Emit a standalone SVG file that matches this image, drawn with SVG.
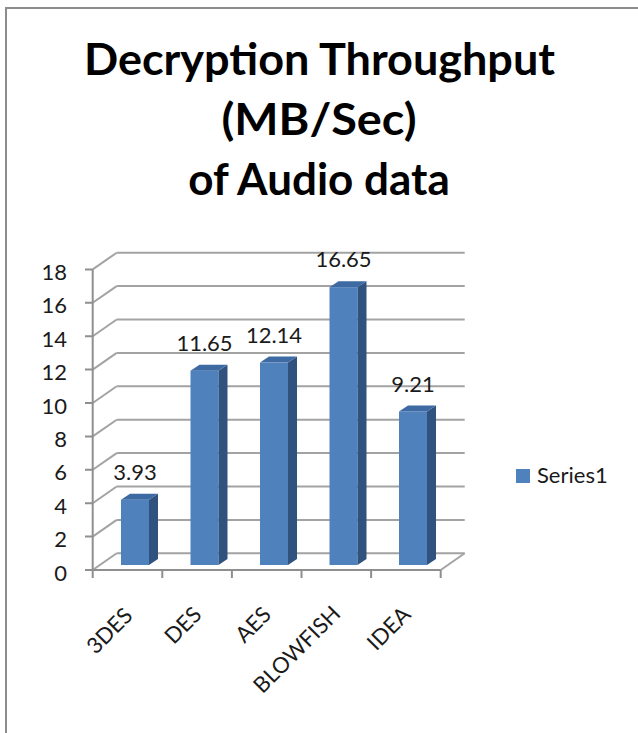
<svg xmlns="http://www.w3.org/2000/svg" width="638" height="733" viewBox="0 0 638 733">
<style>
.grid{stroke:#a3a3a3;stroke-width:2;fill:none}
.axis{stroke:#8f8f8f;stroke-width:2;fill:none}
.front{fill:#4f81bd}
.side{fill:#30527f}
.top{fill:#3d6aa2}
.title{font-family:Lato,"Liberation Sans",sans-serif;font-weight:bold;font-size:44px;fill:#000;text-anchor:middle}
.lbl{font-family:Lato,"Liberation Sans",sans-serif;font-size:22px;fill:#1a1a1a}
.tick{text-anchor:end}
.mid{text-anchor:middle}
</style>
<rect x="0" y="0" width="638" height="733" fill="#fff"/>
<rect x="6" y="8" width="640" height="740" fill="none" stroke="#8c8c8c" stroke-width="2"/>
<g id="title">
<text class="title" x="319.5" y="75" textLength="471" lengthAdjust="spacingAndGlyphs">Decryption Throughput</text>
<text class="title" x="319" y="135" textLength="195" lengthAdjust="spacingAndGlyphs">(MB/Sec)</text>
<text class="title" x="319" y="195">of Audio data</text>
</g>
<g id="walls">
<path class="grid" d="M116.7 553.3H464.7M116.7 519.9H464.7M116.7 486.5H464.7M116.7 453.1H464.7M116.7 419.7H464.7M116.7 386.3H464.7M116.7 352.9H464.7M116.7 319.5H464.7M116.7 286.1H464.7M116.7 252.7H464.7"/>
<path class="grid" d="M92.7 570L116.7 553.3M92.7 536.6L116.7 519.9M92.7 503.2L116.7 486.5M92.7 469.8L116.7 453.1M92.7 436.4L116.7 419.7M92.7 403L116.7 386.3M92.7 369.6L116.7 352.9M92.7 336.2L116.7 319.5M92.7 302.8L116.7 286.1M92.7 269.4L116.7 252.7M440.7 570L464.7 553.3"/>
</g>
<g id="axes">
<path class="axis" d="M92.7 269.4V570H440.7"/>
<path class="axis" d="M85 570H92.7M85 536.6H92.7M85 503.2H92.7M85 469.8H92.7M85 436.4H92.7M85 403H92.7M85 369.6H92.7M85 336.2H92.7M85 302.8H92.7M85 269.4H92.7"/>
<path class="axis" d="M92.7 570V578M162.3 570V578M231.9 570V578M301.5 570V578M371.1 570V578M440.7 570V578"/>
</g>
<g id="ylabels" class="lbl tick">
<text x="67" y="580.5">0</text>
<text x="67" y="547.1">2</text>
<text x="67" y="513.7">4</text>
<text x="67" y="480.3">6</text>
<text x="67" y="446.9">8</text>
<text x="67" y="413.5">10</text>
<text x="67" y="380.1">12</text>
<text x="67" y="346.7">14</text>
<text x="67" y="313.3">16</text>
<text x="67" y="279.9">18</text>
</g>
<g id="bar-3DES">
<rect class="front" x="121" y="499.7" width="28" height="65.3"/>
<polygon class="side" points="149,499.7 158,493.7 158,559 149,565"/>
<polygon class="top" points="121,499.7 130,493.7 158,493.7 149,499.7"/>
<text class="lbl mid" x="135" y="479.7">3.93</text>
</g>
<g id="bar-DES">
<rect class="front" x="190.5" y="370.7" width="28" height="194.3"/>
<polygon class="side" points="218.5,370.7 227.5,364.7 227.5,559 218.5,565"/>
<polygon class="top" points="190.5,370.7 199.5,364.7 227.5,364.7 218.5,370.7"/>
<text class="lbl mid" x="204.5" y="350.7">11.65</text>
</g>
<g id="bar-AES">
<rect class="front" x="260" y="362.6" width="28" height="202.4"/>
<polygon class="side" points="288,362.6 297,356.6 297,559 288,565"/>
<polygon class="top" points="260,362.6 269,356.6 297,356.6 288,362.6"/>
<text class="lbl mid" x="274" y="342.6">12.14</text>
</g>
<g id="bar-BLOWFISH">
<rect class="front" x="329.5" y="287.2" width="28" height="277.8"/>
<polygon class="side" points="357.5,287.2 366.5,281.2 366.5,559 357.5,565"/>
<polygon class="top" points="329.5,287.2 338.5,281.2 366.5,281.2 357.5,287.2"/>
<text class="lbl mid" x="343.5" y="267.2">16.65</text>
</g>
<g id="bar-IDEA">
<rect class="front" x="399" y="411.5" width="28" height="153.5"/>
<polygon class="side" points="427,411.5 436,405.5 436,559 427,565"/>
<polygon class="top" points="399,411.5 408,405.5 436,405.5 427,411.5"/>
<text class="lbl mid" x="413" y="391.5">9.21</text>
</g>
<g id="xlabels" class="lbl tick">
<text transform="translate(134,617) rotate(-45)">3DES</text>
<text transform="translate(203,616) rotate(-45)">DES</text>
<text transform="translate(272.5,616) rotate(-45)">AES</text>
<text transform="translate(342,615) rotate(-45)">BLOWFISH</text>
<text transform="translate(412,616) rotate(-45)">IDEA</text>
</g>
<g id="legend">
<rect class="front" x="516" y="469" width="14" height="14"/>
<text class="lbl" x="537" y="483.3">Series1</text>
</g>
</svg>
